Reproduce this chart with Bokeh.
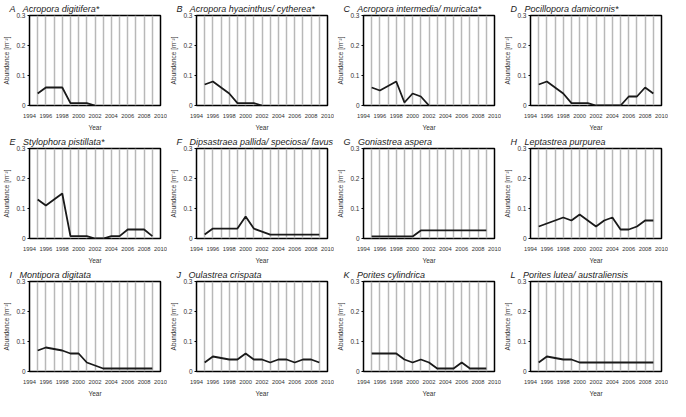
import math
from bokeh.plotting import figure
from bokeh.layouts import gridplot
from bokeh.models import FixedTicker, Range1d
from bokeh.embed import file_html
from bokeh.resources import INLINE

NaN = float("nan")

years = list(range(1995, 2010))
x_tick_labels = [1994, 1996, 1998, 2000, 2002, 2004, 2006, 2008, 2010]
y_ticks = [0, 0.1, 0.2, 0.3]

letters = ["A", "B", "C", "D", "E", "F", "G", "H", "I", "J", "K", "L"]
species = [
    "Acropora digitifera*",
    "Acropora hyacinthus/ cytherea*",
    "Acropora intermedia/ muricata*",
    "Pocillopora damicornis*",
    "Stylophora pistillata*",
    "Dipsastraea pallida/ speciosa/ favus",
    "Goniastrea aspera",
    "Leptastrea purpurea",
    "Montipora digitata",
    "Oulastrea crispata",
    "Porites cylindrica",
    "Porites lutea/ australiensis",
]

a_vals = [0.04, 0.06, 0.06, 0.06, 0.008, 0.008, 0.008, 0.0, NaN, NaN, NaN, NaN, NaN, NaN, NaN]
b_vals = [0.07, 0.08, 0.06, 0.04, 0.008, 0.008, 0.008, 0.0, NaN, NaN, NaN, NaN, NaN, NaN, NaN]
c_vals = [0.06, 0.05, 0.065, 0.08, 0.01, 0.04, 0.03, 0.0, NaN, NaN, NaN, NaN, NaN, NaN, NaN]
d_vals = [0.07, 0.08, 0.06, 0.04, 0.008, 0.008, 0.008, 0.0, 0.0, 0.0, 0.0, 0.03, 0.03, 0.06, 0.04]
e_vals = [0.13, 0.11, 0.13, 0.15, 0.008, 0.008, 0.008, 0.0, 0.0, 0.008, 0.008, 0.03, 0.03, 0.03, 0.008]
f_vals = [0.013, 0.033, 0.033, 0.033, 0.033, 0.073, 0.033, 0.023, 0.013, 0.013, 0.013, 0.013, 0.013, 0.013, 0.013]
g_vals = [0.007, 0.007, 0.007, 0.007, 0.007, 0.007, 0.027, 0.027, 0.027, 0.027, 0.027, 0.027, 0.027, 0.027, 0.027]
h_vals = [0.04, 0.05, 0.06, 0.07, 0.06, 0.08, 0.06, 0.04, 0.06, 0.07, 0.03, 0.03, 0.04, 0.06, 0.06]
i_vals = [0.07, 0.08, 0.075, 0.07, 0.06, 0.06, 0.03, 0.02, 0.01, 0.01, 0.01, 0.01, 0.01, 0.01, 0.01]
j_vals = [0.03, 0.05, 0.045, 0.04, 0.04, 0.06, 0.04, 0.04, 0.03, 0.04, 0.04, 0.03, 0.04, 0.04, 0.03]
k_vals = [0.06, 0.06, 0.06, 0.06, 0.04, 0.03, 0.04, 0.03, 0.01, 0.01, 0.01, 0.03, 0.01, 0.01, 0.01]
l_vals = [0.03, 0.05, 0.045, 0.04, 0.04, 0.03, 0.03, 0.03, 0.03, 0.03, 0.03, 0.03, 0.03, 0.03, 0.03]

series = [a_vals, b_vals, c_vals, d_vals, e_vals, f_vals,
          g_vals, h_vals, i_vals, j_vals, k_vals, l_vals]

FONT = "Liberation Sans"
figs = []
for letter, name, vals in zip(letters, species, series):
    p = figure(width=167, height=133, output_backend="svg", toolbar_location=None,
               x_range=Range1d(1994, 2010), y_range=Range1d(0, 0.3),
               min_border_left=20, min_border_right=7, min_border_top=14,
               min_border_bottom=22, background_fill_color="white",
               border_fill_color="white")
    p.title.text = letter + "\u00a0\u00a0 " + name
    p.title.text_font = FONT
    p.title.text_font_style = "italic"
    p.title.text_font_size = "9px"
    p.title.text_color = "#222222"
    p.title.standoff = 3
    p.title.offset = -20

    p.outline_line_color = "black"
    p.outline_line_width = 1.5
    p.outline_line_alpha = 1

    p.xaxis.ticker = FixedTicker(ticks=x_tick_labels)
    p.xaxis.axis_label = "Year"
    p.yaxis.ticker = FixedTicker(ticks=y_ticks)
    p.yaxis.major_label_overrides = {0: "0", 0.1: "0.1", 0.2: "0.2", 0.3: "0.3"}
    p.yaxis.axis_label = "Abundance [m\u207b\u00b2]"
    for ax in (p.xaxis[0], p.yaxis[0]):
        ax.axis_line_color = None
        ax.minor_tick_line_color = None
        ax.major_label_text_font = FONT
        ax.major_label_text_font_size = "6.5px"
        ax.major_label_text_color = "#333333"
        ax.axis_label_text_font = FONT
        ax.axis_label_text_font_size = "6.5px"
        ax.axis_label_text_font_style = "normal"
        ax.axis_label_text_color = "#333333"
        ax.major_label_standoff = 2
        ax.axis_label_standoff = 3
    p.xaxis.major_label_text_font_size = "5.8px"
    p.xaxis.major_tick_line_color = None
    p.yaxis.major_tick_out = 2
    p.yaxis.major_tick_in = 0
    p.yaxis.major_tick_line_color = "black"

    p.ygrid.grid_line_color = None
    p.xgrid.ticker = FixedTicker(ticks=years)
    p.xgrid.grid_line_color = "#b8b8b8"
    p.xgrid.grid_line_width = 1.5

    p.line(years, vals, line_color="#1a1a1a", line_width=1.8)
    figs.append(p)

grid = gridplot(figs, ncols=4, toolbar_location=None)
open("out.html", "w").write(file_html(grid, INLINE))
